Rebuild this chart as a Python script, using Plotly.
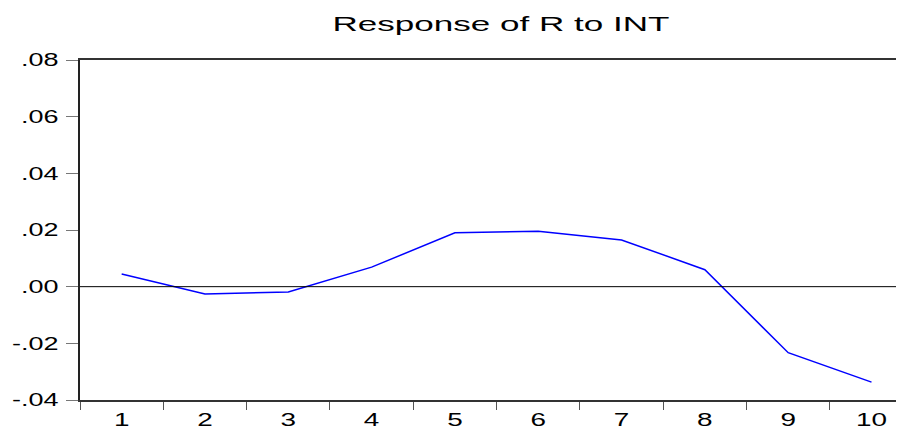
import plotly.graph_objects as go

periods = ["1", "2", "3", "4", "5", "6", "7", "8", "9", "10"]
response = [0.0045, -0.0026, -0.0019, 0.0069, 0.0190, 0.0196, 0.0165, 0.0060, -0.0233, -0.0337]
ytick_vals = [-0.04, -0.02, 0.00, 0.02, 0.04, 0.06, 0.08]
ytick_text = ["-.04", "-.02", ".00", ".02", ".04", ".06", ".08"]

fig = go.Figure()
fig.add_trace(go.Scatter(x=periods, y=response, mode="lines",
                         line=dict(color="#0000ff", width=1.5), showlegend=False))

fig.add_hline(y=0, line=dict(color="black", width=1))

# page body has an 8px default margin, so the figure is sized/offset to compensate
fig.update_layout(
    width=896, height=420,
    margin=dict(l=72, r=0, t=52, b=28, autoexpand=False),
    paper_bgcolor="white", plot_bgcolor="white",
    font=dict(family="Liberation Sans, Arial, sans-serif", size=18, color="black"),
    title=dict(text="Response of R to INT", xref="paper", x=0.511, xanchor="center",
               yref="container", y=0.962, yanchor="middle",
               font=dict(size=21, color="black")),
)
fig.update_xaxes(type="category", range=[-0.5, 9.39], tickson="boundaries",
                 ticks="outside", ticklen=8, tickcolor="#555", tickwidth=1,
                 showline=True, linecolor="#333", linewidth=2, mirror=True,
                 showgrid=False, zeroline=False, automargin=False,
                 tickfont=dict(size=18), ticklabelstandoff=2)
fig.update_yaxes(range=[-0.04, 0.08], tickvals=ytick_vals, ticktext=ytick_text,
                 ticks="outside", ticklen=12, tickcolor="#777", tickwidth=1,
                 showline=True, linecolor="#222", linewidth=1.5,
                 showgrid=False, zeroline=False, automargin=False,
                 tickfont=dict(size=18), ticklabelstandoff=4)

post = """
function stretch(sel, k, anchor){
  document.querySelectorAll(sel).forEach(function(t){
    var b = t.getBBox();
    var cx = anchor === 'end' ? b.x + b.width : b.x + b.width / 2;
    var tr = t.getAttribute('transform') || '';
    t.setAttribute('transform', tr + ' translate(' + cx + ',0) scale(' + k + ',1) translate(' + (-cx) + ',0)');
  });
}
stretch('.gtitle', 1.67, 'middle');
stretch('.xtick text', 1.55, 'middle');
stretch('.ytick text', 1.5, 'end');
"""

fig.write_html("out.html", post_script=post)
